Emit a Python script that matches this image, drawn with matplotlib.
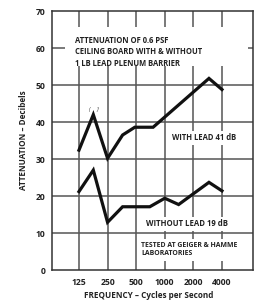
import numpy as np
import matplotlib
matplotlib.use('Agg')
import matplotlib.pyplot as plt
from matplotlib.patches import Rectangle

plt.rcParams['font.family'] = ['Open Sans', 'DejaVu Sans']

with_freq = [125, 177, 250, 360, 484, 754, 2920, 4000]
with_db = [32.4, 42.0, 30.2, 36.5, 38.6, 38.6, 51.8, 48.8]
without_freq = [125, 177, 250, 360, 484, 696, 1000, 1400, 2920, 4000]
without_db = [21.2, 27.0, 12.9, 17.1, 17.1, 17.1, 19.4, 17.7, 23.7, 21.4]
freq_ticks = [125, 250, 500, 1000, 2000, 4000]
db_ticks = [0, 10, 20, 30, 40, 50, 60, 70]

fig = plt.figure(figsize=(2.75, 3.0), dpi=100)
ax = fig.add_axes([0.189, 0.1, 0.731, 0.863])

ax.set_xscale('log', base=2)
ax.set_xlim(65, 8490)
ax.set_ylim(0, 70)

ax.set_xticks(freq_ticks)
ax.set_xticklabels([str(f) for f in freq_ticks])
ax.set_yticks(db_ticks)
ax.minorticks_off()
ax.tick_params(length=0, labelsize=6.2, colors='#222222')
ax.tick_params(axis='y', pad=4.5)
ax.tick_params(axis='x', pad=5.5)
for lab in ax.get_xticklabels() + ax.get_yticklabels():
    lab.set_fontweight('bold')

grid_c = '#555555'
for f in freq_ticks:
    ax.axvline(f, color=grid_c, lw=1.1, zorder=1)
for d in db_ticks[1:-1]:
    ax.axhline(d, color=grid_c, lw=1.1, zorder=1)

for s in ax.spines.values():
    s.set_color('#333333')
    s.set_linewidth(1.1)

ax.plot(with_freq, with_db, color='#111111', lw=2.3, solid_joinstyle='miter', zorder=4)
ax.plot(without_freq, without_db, color='#111111', lw=2.3, solid_joinstyle='miter', zorder=4)

# white panel behind the title
ax.add_patch(Rectangle((0.065, 0.788), 0.91, 0.15, transform=ax.transAxes,
                       facecolor='white', edgecolor='none', zorder=2))
ax.text(0.114, 0.905, 'ATTENUATION OF 0.6 PSF\nCEILING BOARD WITH & WITHOUT\n1 LB LEAD PLENUM BARRIER',
        transform=ax.transAxes, fontsize=5.5, fontweight='bold', color='#222222',
        va='top', ha='left', linespacing=1.4, zorder=3)

box = dict(facecolor='white', edgecolor='none', pad=1.5)
ax.text(0.596, 0.51, 'WITH LEAD 41 dB', transform=ax.transAxes, fontsize=5.5,
        fontweight='bold', color='#222222', va='center', ha='left', bbox=box, zorder=3)
ax.text(0.468, 0.178, 'WITHOUT LEAD 19 dB', transform=ax.transAxes, fontsize=5.6,
        fontweight='bold', color='#222222', va='center', ha='left', bbox=box, zorder=3)
ax.text(0.443, 0.078, 'TESTED AT GEIGER & HAMME\nLABORATORIES', transform=ax.transAxes,
        fontsize=4.95, fontweight='bold', color='#222222', va='center', ha='left',
        linespacing=1.25, bbox=dict(facecolor='white', edgecolor='none', pad=2.5), zorder=3)

ax.text(163, 42.6, '(', fontsize=4, style='italic', color='#333333', ha='center', va='bottom', zorder=5)
ax.text(199, 42.6, ")'", fontsize=4, style='italic', color='#333333', ha='center', va='bottom', zorder=5)

ax.set_ylabel('ATTENUATION \u2013 Decibels', fontsize=5.9, fontweight='bold', color='#222222')
ax.yaxis.set_label_coords(-0.144, 0.5)
ax.yaxis.label.set_verticalalignment('center')
ax.set_xlabel('FREQUENCY \u2013 Cycles per Second', fontsize=5.9, fontweight='bold', color='#222222')
ax.xaxis.set_label_coords(0.48, -0.099)
ax.xaxis.label.set_verticalalignment('center')

fig.savefig('out.png', dpi=100)
